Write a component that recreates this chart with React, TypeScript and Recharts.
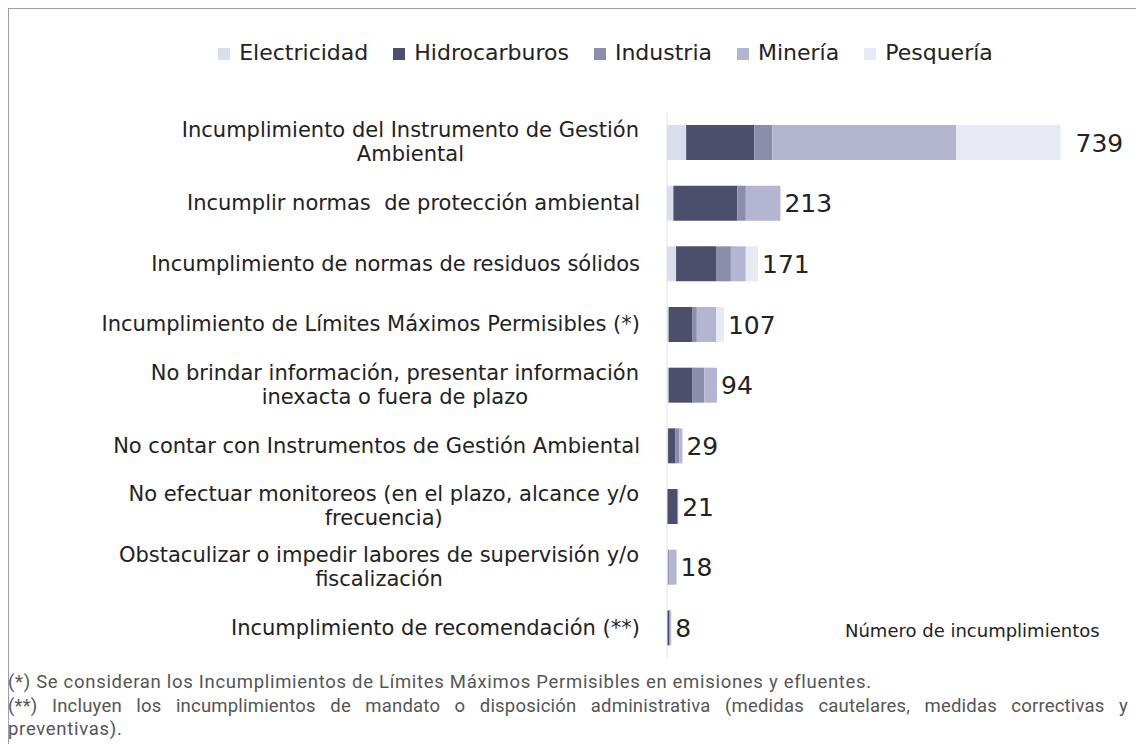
import React from "react";
import { BarChart, Bar, XAxis, YAxis, Legend, LabelList } from "recharts";

const categories = [
  "Incumplimiento del Instrumento de Gestión\nAmbiental",
  "Incumplir normas  de protección ambiental",
  "Incumplimiento de normas de residuos sólidos",
  "Incumplimiento de Límites Máximos Permisibles (*)",
  "No brindar información, presentar información\ninexacta o fuera de plazo",
  "No contar con Instrumentos de Gestión Ambiental",
  "No efectuar monitoreos (en el plazo, alcance y/o\nfrecuencia)",
  "Obstaculizar o impedir labores de supervisión y/o\nfiscalización",
  "Incumplimiento de recomendación (**)",
];

const electricidad = [36, 12, 17, 3, 3, 2, 0, 2, 0];
const hidrocarburos = [128, 120, 75, 45, 45, 14, 19, 0, 4];
const industria = [34, 16, 28, 8, 22, 7, 2, 2, 2];
const mineria = [345, 65, 28, 36, 24, 6, 0, 14, 2];
const pesqueria = [196, 0, 23, 15, 0, 0, 0, 0, 0];

const totals = [739, 213, 171, 107, 94, 29, 21, 18, 8];

const series = [
  { key: "Electricidad", values: electricidad, color: "#dadded" },
  { key: "Hidrocarburos", values: hidrocarburos, color: "#4b4f6b" },
  { key: "Industria", values: industria, color: "#8b8dab" },
  { key: "Minería", values: mineria, color: "#b3b5d1" },
  { key: "Pesquería", values: pesqueria, color: "#e7e9f3" },
];

const data = categories.map((name, i) => {
  const row: any = { name, total: totals[i] };
  series.forEach((s) => {
    row[s.key] = s.values[i];
  });
  return row;
});

// which series ends each bar, so the total sits right after it
const lastSeries = categories.map((_, i) => {
  let last = 0;
  series.forEach((s, idx) => {
    if (s.values[i] > 0) last = idx;
  });
  return last;
});

const labelFont = "'DejaVu Sans', sans-serif";
const labelSize = 21;

let ctx: CanvasRenderingContext2D | null = null;
function measure(text: string) {
  if (!ctx) ctx = document.createElement("canvas").getContext("2d");
  if (!ctx) return text.length * 11;
  ctx.font = `${labelSize}px 'DejaVu Sans'`;
  return ctx.measureText(text).width;
}

function CategoryTick(props: any) {
  const { x, y, payload } = props;
  const lines = String(payload.value).split("\n");
  const lineH = 24;
  if (lines.length === 1) {
    return (
      <text x={x - 19} y={y} dy={7} textAnchor="end" fontFamily={labelFont} fontSize={labelSize} fill="#222" style={{ whiteSpace: "pre" }}>
        {lines[0]}
      </text>
    );
  }
  const w = Math.max(...lines.map(measure));
  const cx = x - 20 - w / 2;
  const top = y - ((lines.length - 1) * lineH) / 2;
  return (
    <text textAnchor="middle" fontFamily={labelFont} fontSize={labelSize} fill="#222">
      {lines.map((l, i) => (
        <tspan key={i} x={cx} y={top + i * lineH} dy={7}>
          {l}
        </tspan>
      ))}
    </text>
  );
}

function TotalLabel(props: any) {
  const { x, y, width, height, value } = props;
  if (value === null || value === undefined || value === "") return null;
  return (
    <text
      x={Number(x) + Number(width) + (value === totals[0] ? 15 : 4)}
      y={Number(y) + Number(height) / 2}
      dy={9}
      fontFamily="'DejaVu Sans', sans-serif"
      fontSize={25}
      fill="#222"
    >
      {value}
    </text>
  );
}

export default function App() {
  return (
    <div style={{ position: "absolute", left: 0, top: 0, width: 1136, height: 744, background: "#fff", overflow: "hidden" }}>
      <div style={{ position: "absolute", left: 8, top: 8, right: 0, bottom: 0, borderTop: "1px solid #9a9cb6", borderLeft: "1px solid #9a9cb6" }} />
      <BarChart
        width={1136}
        height={670}
        data={data}
        layout="vertical"
        barSize={35}
        margin={{ top: 82, right: 43, left: 0, bottom: 12 }}
        style={{ position: "absolute", left: 0, top: 0 }}
      >
        <XAxis type="number" domain={[0, 800]} hide />
        <YAxis
          type="category"
          dataKey="name"
          width={667}
          tickLine={false}
          axisLine={{ stroke: "#e2e2e8" }}
          tick={<CategoryTick />}
          interval={0}
        />
        <Legend
          verticalAlign="top"
          align="center"
          iconType="square"
          iconSize={12}
          wrapperStyle={{
            top: 38,
            left: 50,
            width: 1136,
            fontFamily: "'DejaVu Sans', sans-serif",
            fontSize: 22,
            lineHeight: "30px",
            color: "#222",
          }}
          formatter={(v: string) => <span style={{ color: "#222", marginLeft: 5, marginRight: 15 }}>{v}</span>}
        />
        {series.map((s, idx) => (
          <Bar key={s.key} dataKey={s.key} stackId="a" fill={s.color} isAnimationActive={false}>
            <LabelList
              dataKey={(row: any) => (lastSeries[categories.indexOf(row.name)] === idx ? row.total : null)}
              content={<TotalLabel />}
            />
          </Bar>
        ))}
      </BarChart>
      <div style={{ position: "absolute", left: 845, top: 620, fontFamily: labelFont, fontSize: 18, color: "#222" }}>
        Número de incumplimientos
      </div>
      <div
        style={{
          position: "absolute",
          left: 8,
          top: 671,
          fontFamily: "Roboto, sans-serif",
          fontSize: 18.5,
          letterSpacing: 0.7,
          lineHeight: "23.5px",
          color: "#555",
          width: 1120,
        }}
      >
        <div style={{ whiteSpace: "nowrap" }}>
          (*) Se consideran los Incumplimientos de Límites Máximos Permisibles en emisiones y efluentes.
        </div>
        <div style={{ textAlign: "justify", textAlignLast: "justify", letterSpacing: 0.2 }}>
          (**) Incluyen los incumplimientos de mandato o disposición administrativa (medidas cautelares, medidas correctivas y
        </div>
        <div>preventivas).</div>
      </div>
    </div>
  );
}
